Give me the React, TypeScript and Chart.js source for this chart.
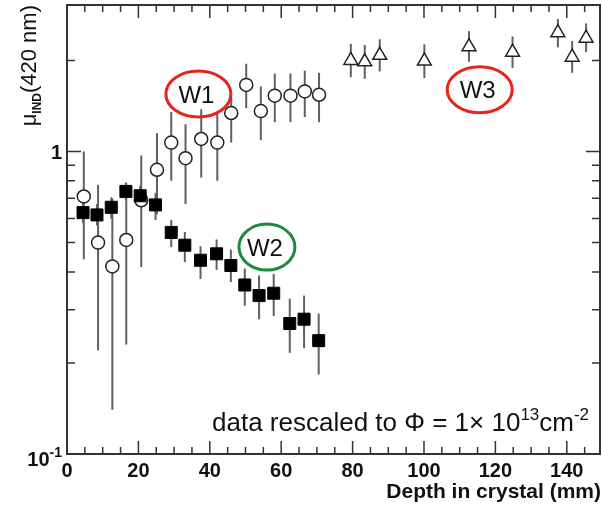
import { useEffect, useRef } from 'react';
import { Chart, registerables } from 'chart.js';

Chart.register(...registerables);

// W1 (open circles)
const w1Depth = [4.7, 8.7, 12.7, 16.6, 20.8, 25.2, 29.2, 33.2, 37.6, 42.1, 46.0, 50.2, 54.3, 58.2, 62.6, 66.6, 70.6];
const w1Mu = [0.71, 0.50, 0.417, 0.51, 0.69, 0.87, 1.07, 0.95, 1.10, 1.07, 1.34, 1.66, 1.36, 1.53, 1.53, 1.58, 1.54];
const w1Hi = [1.0, 0.776, 0.70, 0.787, 0.97, 1.15, 1.35, 1.23, 1.38, 1.35, 1.53, 1.95, 1.64, 1.81, 1.81, 1.85, 1.82];
const w1Lo = [0.44, 0.22, 0.14, 0.23, 0.415, 0.62, 0.80, 0.67, 0.82, 0.80, 1.07, 1.39, 1.09, 1.25, 1.25, 1.30, 1.25];

// W2 (filled squares)
const w2Depth = [4.5, 8.4, 12.4, 16.5, 20.5, 24.8, 29.2, 33.0, 37.4, 41.9, 45.9, 49.8, 53.8, 57.9, 62.4, 66.4, 70.5];
const w2Mu = [0.628, 0.617, 0.654, 0.738, 0.714, 0.666, 0.54, 0.49, 0.437, 0.459, 0.42, 0.362, 0.334, 0.34, 0.27, 0.279, 0.237];
const w2Hi = [0.68, 0.67, 0.706, 0.79, 0.77, 0.73, 0.594, 0.542, 0.486, 0.512, 0.474, 0.41, 0.389, 0.394, 0.326, 0.334, 0.291];
const w2Lo = [0.58, 0.57, 0.60, 0.69, 0.66, 0.594, 0.483, 0.431, 0.379, 0.406, 0.37, 0.309, 0.279, 0.286, 0.216, 0.224, 0.183];

// W3 (open triangles)
const w3Depth = [79.5, 83.4, 87.6, 100.1, 112.6, 124.8, 137.5, 141.5, 145.4];
const w3Mu = [2.0, 1.98, 2.08, 1.99, 2.22, 2.13, 2.47, 2.05, 2.37];
const w3Hi = [2.27, 2.25, 2.35, 2.26, 2.50, 2.40, 2.74, 2.32, 2.65];
const w3Lo = [1.76, 1.74, 1.84, 1.75, 1.98, 1.89, 2.21, 1.82, 2.13];

// axes
const xMin = 0;
const xMax = 149.3;
const yMin = 0.1;
const yMax = 3.05;
const xTickLabels = [0, 20, 40, 60, 80, 100, 120, 140];
const xMinorStep = 5;
const yMajorTicks = [0.1, 1];
const yMinorTicks = [0.2, 0.3, 0.4, 0.5, 0.6, 0.7, 0.8, 0.9, 2];
const yLabelBase = ['10', '1'];
const yLabelSup = ['-1', ''];
const xTitle = 'Depth in crystal (mm)';

// annotations (ellipse labels placed in data coordinates)
const annotText = ['W1', 'W2', 'W3'];
const annotDepth = [36.8, 56.0, 115.6];
const annotMu = [1.55, 0.483, 1.60];
const annotColor = ['#e8231b', '#1b8a3c', '#e8231b'];

const FONT = "'Liberation Sans', Arial, Helvetica, sans-serif";

const rootStyle = {
  id: 'rootStyle',
  beforeDatasetsDraw(chart: any) {
    const { ctx, chartArea: a } = chart;
    const xs = chart.scales.x;
    const ys = chart.scales.y;
    ctx.save();
    ctx.beginPath();
    ctx.rect(a.left, a.top, a.right - a.left, a.bottom - a.top);
    ctx.clip();
    ctx.strokeStyle = '#606060';
    ctx.lineWidth = 2;
    const sets = [
      [w1Depth, w1Hi, w1Lo],
      [w2Depth, w2Hi, w2Lo],
      [w3Depth, w3Hi, w3Lo],
    ];
    for (const [d, hi, lo] of sets) {
      for (let i = 0; i < d.length; i++) {
        const x = xs.getPixelForValue(d[i]);
        ctx.beginPath();
        ctx.moveTo(x, ys.getPixelForValue(hi[i]));
        ctx.lineTo(x, ys.getPixelForValue(lo[i]));
        ctx.stroke();
      }
    }
    ctx.restore();
  },
  afterDatasetsDraw(chart: any) {
    const { ctx, chartArea: a } = chart;
    const xs = chart.scales.x;
    const ys = chart.scales.y;
    ctx.save();
    // frame
    ctx.strokeStyle = '#333';
    ctx.lineWidth = 2;
    ctx.strokeRect(a.left, a.top, a.right - a.left, a.bottom - a.top);

    // x ticks (inside, bottom and top)
    ctx.lineWidth = 1.5;
    for (let v = xMin; v <= xMax; v += xMinorStep) {
      const major = v % 20 === 0;
      const len = major ? 13 : 7;
      const x = xs.getPixelForValue(v);
      ctx.beginPath();
      ctx.moveTo(x, a.bottom);
      ctx.lineTo(x, a.bottom - len);
      ctx.moveTo(x, a.top);
      ctx.lineTo(x, a.top + len);
      ctx.stroke();
    }
    // y ticks
    const yt = (v: number, len: number) => {
      const y = ys.getPixelForValue(v);
      ctx.beginPath();
      ctx.moveTo(a.left, y);
      ctx.lineTo(a.left + len, y);
      ctx.moveTo(a.right, y);
      ctx.lineTo(a.right - len, y);
      ctx.stroke();
    };
    yMajorTicks.forEach((v) => yt(v, 14));
    yMinorTicks.forEach((v) => yt(v, 8));

    // x labels
    ctx.fillStyle = '#111';
    ctx.font = `bold 20px ${FONT}`;
    ctx.textAlign = 'center';
    ctx.textBaseline = 'alphabetic';
    xTickLabels.forEach((v) => {
      ctx.fillText(String(v), xs.getPixelForValue(v), a.bottom + 23);
    });
    // x title
    ctx.font = `bold 21px ${FONT}`;
    ctx.textAlign = 'right';
    ctx.fillText(xTitle, a.right + 1, 498);

    // y labels
    yMajorTicks.forEach((v, i) => {
      const y = ys.getPixelForValue(v);
      const base = yLabelBase[i];
      const sup = yLabelSup[i];
      ctx.font = `bold 14px ${FONT}`;
      const sw = sup ? ctx.measureText(sup).width : 0;
      ctx.font = `bold 20px ${FONT}`;
      const bw = ctx.measureText(base).width;
      const right = a.left - 5;
      ctx.textAlign = 'left';
      const yOff = sup ? 12 : 7;
      ctx.fillText(base, right - sw - bw, y + yOff);
      if (sup) {
        ctx.font = `bold 14px ${FONT}`;
        ctx.fillText(sup, right - sw, y + yOff - 9);
      }
    });

    // y title (rotated)
    ctx.save();
    ctx.translate(36, a.top);
    ctx.rotate(-Math.PI / 2);
    ctx.textAlign = 'left';
    const parts: [string, string, number][] = [
      ['\u03bc', `22px ${FONT}`, 0],
      ['IND', `bold 12px ${FONT}`, 5],
      ['(420 nm)', `22px ${FONT}`, 0],
    ];
    let total = 0;
    parts.forEach(([t, f]) => {
      ctx.font = f;
      total += ctx.measureText(t).width;
    });
    let lx = -total;
    parts.forEach(([t, f, dy]) => {
      ctx.font = f;
      ctx.fillText(t, lx, dy);
      lx += ctx.measureText(t).width;
    });
    ctx.restore();

    // annotation text
    {
      const pieces: [string, number, number][] = [
        ['data rescaled to \u03a6 = 1\u00d7 10', 26, 0],
        ['13', 17, -11],
        ['cm', 26, 0],
        ['-2', 17, -11],
      ];
      let x = 212;
      ctx.textAlign = 'left';
      pieces.forEach(([t, s, dy]) => {
        ctx.font = `${s}px ${FONT}`;
        ctx.fillText(t, x, 431 + dy);
        x += ctx.measureText(t).width;
      });
    }

    // ellipses
    annotText.forEach((t, i) => {
      const cx = xs.getPixelForValue(annotDepth[i]);
      const cy = ys.getPixelForValue(annotMu[i]);
      const rx = i === 1 ? 28 : 32.5;
      const ry = 23;
      ctx.beginPath();
      ctx.ellipse(cx, cy, rx, ry, 0, 0, Math.PI * 2);
      ctx.strokeStyle = annotColor[i];
      ctx.lineWidth = 3;
      ctx.stroke();
      ctx.fillStyle = '#111';
      ctx.font = `24px ${FONT}`;
      ctx.textAlign = 'center';
      ctx.textBaseline = 'middle';
      ctx.fillText(t, cx - 2, cy + 2);
      ctx.textBaseline = 'alphabetic';
    });
    ctx.restore();
  },
};

export default function App() {
  const ref = useRef<HTMLCanvasElement | null>(null);
  useEffect(() => {
    if (!ref.current) return;
    const toPts = (d: number[], m: number[]) => d.map((x, i) => ({ x, y: m[i] }));
    const chart = new Chart(ref.current, {
      type: 'scatter',
      data: {
        datasets: [
          {
            label: 'W2',
            data: toPts(w2Depth, w2Mu),
            pointStyle: 'rect',
            pointRadius: 8.5,
            backgroundColor: '#000',
            borderColor: '#000',
            borderWidth: 1,
            order: 0,
          },
          {
            label: 'W1',
            data: toPts(w1Depth, w1Mu),
            pointStyle: 'circle',
            pointRadius: 6.5,
            backgroundColor: '#fff',
            borderColor: '#222',
            borderWidth: 1.5,
            order: 1,
          },
          {
            label: 'W3',
            data: toPts(w3Depth, w3Mu),
            pointStyle: 'triangle',
            pointRadius: 8,
            backgroundColor: '#fff',
            borderColor: '#222',
            borderWidth: 1.5,
            order: 2,
          },
        ],
      },
      options: {
        animation: false,
        responsive: false,
        maintainAspectRatio: false,
        devicePixelRatio: 1,
        layout: { autoPadding: false, padding: { left: 67, top: 5, right: 2, bottom: 54 } },
        scales: {
          x: { type: 'linear', min: xMin, max: xMax, display: false },
          y: { type: 'logarithmic', min: yMin, max: yMax, display: false },
        },
        plugins: {
          legend: { display: false },
          tooltip: { enabled: false },
        },
      },
      plugins: [rootStyle],
    });
    return () => chart.destroy();
  }, []);
  return (
    <div style={{ position: 'absolute', left: 0, top: 0, width: 602, height: 508, background: '#fff' }}>
      <canvas ref={ref} width={602} height={508} style={{ width: 602, height: 508, display: 'block' }} />
    </div>
  );
}
